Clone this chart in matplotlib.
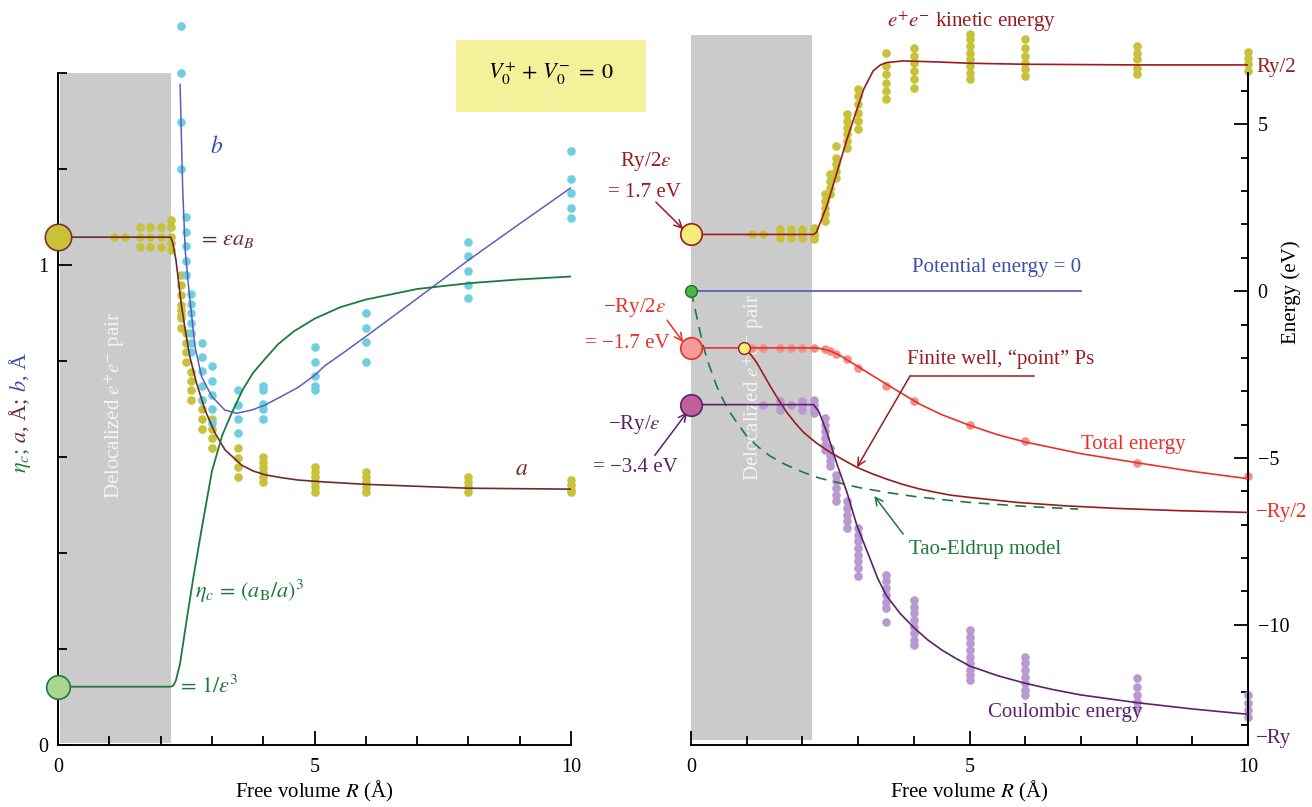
import matplotlib
matplotlib.use("Agg")
import matplotlib.pyplot as plt
from matplotlib.patches import Rectangle
from matplotlib.ticker import FixedLocator

plt.rcParams['font.family'] = ['Liberation Serif', 'DejaVu Serif']
plt.rcParams['mathtext.fontset'] = 'stix'

W, H = 1312, 807

# ---------------- colours ----------------
GRAY = '#cbcbcb'
OLIVE = '#c8c23a'
CYAN = '#6fcfe0'
BLUE_LINE = '#5a60b8'
BLUE_TXT = '#3c4fa8'
BROWN = '#6b2c2c'
GREEN = '#1d7a3c'
DKRED = '#981c20'
RED = '#ec3028'
PINK = '#f2908c'
PURPLE = '#5e1f6b'
LAVENDER = '#b899d1'

# ---------------- left panel: sizes of the pair ----------------
a_curve_R = [0, 2.2, 2.24, 2.3, 2.35, 2.41, 2.48, 2.57, 2.70, 2.865, 3.06, 3.255,
             3.58, 3.8, 4.035, 4.35, 4.68, 5.2, 6.0, 7.0, 8.0, 9.0, 10.0]
a_curve = [1.058, 1.058, 1.045, 1.01, 0.965, 0.913, 0.865, 0.809, 0.754, 0.698,
           0.650, 0.615, 0.583, 0.571, 0.563, 0.557, 0.552, 0.548, 0.543, 0.539,
           0.535, 0.534, 0.533]

b_curve_R = [2.38, 2.43, 2.48, 2.54, 2.6, 2.67, 2.8, 3.0, 3.25, 3.48, 3.78, 4.03,
             4.35, 4.68, 5.0, 5.2, 5.6, 6.0, 7.0, 8.0, 9.0, 10.0]
b_curve = [1.376, 1.16, 1.03, 0.96, 0.90, 0.83, 0.767, 0.726, 0.698, 0.691, 0.698,
           0.708, 0.726, 0.745, 0.77, 0.79, 0.82, 0.851, 0.93, 1.01, 1.086, 1.161]

eta_curve_R = [0, 2.2, 2.25, 2.3, 2.38, 2.5, 2.64, 2.8, 3.0, 3.2, 3.4, 3.6, 3.8,
               4.0, 4.29, 4.6, 5.0, 5.5, 6.0, 7.0, 8.0, 9.0, 10.0]
eta_curve = [0.1215, 0.1215, 0.124, 0.135, 0.17, 0.255, 0.35, 0.45, 0.57, 0.645,
             0.695, 0.74, 0.775, 0.80, 0.835, 0.862, 0.888, 0.912, 0.928, 0.95,
             0.962, 0.97, 0.976]

a_dot_R = [1.1, 1.3, 1.6, 1.8, 2.0, 2.2, 2.4, 2.5, 2.6, 2.8, 3.0, 3.5, 4.0, 5.0, 6.0, 8.0, 10.0]
a_dot_vals = [
    [1.058],
    [1.058],
    [1.079, 1.058, 1.0375],
    [1.079, 1.058, 1.0375],
    [1.079, 1.058, 1.0375],
    [1.094, 1.079, 1.058, 1.046, 1.031],
    [0.979, 0.958, 0.9375, 0.917, 0.906, 0.896, 0.890, 0.869],
    [0.858, 0.8375, 0.819, 0.798],
    [0.777, 0.758, 0.740, 0.719],
    [0.719, 0.700, 0.679, 0.658],
    [0.679, 0.658, 0.640, 0.619],
    [0.619, 0.598, 0.579, 0.558],
    [0.600, 0.590, 0.579, 0.569, 0.558, 0.548],
    [0.579, 0.569, 0.558, 0.548, 0.538, 0.527],
    [0.569, 0.558, 0.548, 0.538, 0.527],
    [0.558, 0.548, 0.538, 0.527],
    [0.552, 0.542, 0.531, 0.527],
]

b_dot_R = [2.4, 2.5, 2.6, 2.8, 3.0, 3.5, 4.0, 5.0, 6.0, 8.0, 10.0]
b_dot_vals = [
    [1.4985, 1.4, 1.2985, 1.199],
    [1.1, 1.069, 1.0396, 1.009, 0.979],
    [0.9396, 0.919, 0.9, 0.880, 0.859, 0.838, 0.819],
    [0.838, 0.809, 0.779, 0.7485, 0.719],
    [0.790, 0.759, 0.729, 0.700, 0.670],
    [0.740, 0.708, 0.679, 0.650],
    [0.7485, 0.740, 0.710, 0.700, 0.679],
    [0.829, 0.7985, 0.769, 0.7485, 0.740],
    [0.899, 0.869, 0.839, 0.7985],
    [1.0485, 1.019, 0.988, 0.958, 0.931],
    [1.238, 1.1785, 1.149, 1.118, 1.0985],
]

# ---------------- right panel: energies (eV) ----------------
kin_curve_R = [0, 2.2, 2.25, 2.32, 2.44, 2.62, 2.8, 2.98, 3.1, 3.27, 3.4, 3.51, 3.81,
               4.41, 5.0, 6.0, 8.0, 10.0]
kin_curve = [1.7, 1.7, 1.76, 2.05, 2.56, 3.56, 4.55, 5.45, 6.05, 6.6, 6.78, 6.85,
             6.90, 6.87, 6.83, 6.80, 6.78, 6.78]

pot_R = [0, 7.0]
pot_E = [0, 0]

tao_R = [0, 0.05, 0.12, 0.22, 0.3, 0.46, 0.58, 0.70, 0.85, 1.0, 1.2, 1.42, 1.7,
         2.02, 2.3, 2.62, 3.0, 3.51, 4.0, 4.41, 5.0, 6.0, 6.95]
tao_E = [0, -0.35, -0.9, -1.64, -2.1, -2.84, -3.27, -3.63, -4.0, -4.34, -4.66, -4.94,
         -5.2, -5.43, -5.6, -5.73, -5.88, -6.03, -6.15, -6.23, -6.33, -6.45, -6.53]

well_R = [0.95, 1.05, 1.18, 1.42, 1.57, 1.72, 1.87, 2.02, 2.25, 2.5, 2.75, 2.98,
          3.25, 3.51, 3.8, 4.11, 4.4, 4.65, 5.0, 5.85, 6.7, 7.64, 8.8, 10.0]
well_E = [-1.7, -1.85, -2.14, -2.84, -3.25, -3.63, -3.95, -4.23, -4.55, -4.83, -5.07,
          -5.28, -5.47, -5.63, -5.79, -5.93, -6.03, -6.11, -6.18, -6.33, -6.43, -6.51,
          -6.58, -6.63]

tot_curve_R = [0, 2.2, 2.3, 2.5, 2.7, 2.9, 3.2, 3.5, 3.8, 4.1, 4.5, 5.0, 5.5, 6.0,
               7.0, 8.0, 9.0, 10.0]
tot_curve = [-1.7, -1.7, -1.71, -1.79, -1.95, -2.16, -2.47, -2.78, -3.08, -3.38,
             -3.7, -4.02, -4.3, -4.52, -4.87, -5.14, -5.4, -5.62]

coul_curve_R = [0, 2.2, 2.29, 2.44, 2.62, 2.8, 2.98, 3.21, 3.35, 3.5, 3.75, 4.0,
                4.25, 4.5, 4.75, 5.0, 5.5, 6.0, 6.5, 7.0, 8.0, 9.0, 10.0]
coul_curve = [-3.4, -3.4, -3.59, -4.23, -5.18, -6.03, -7.03, -8.0, -8.6, -9.1, -9.65,
              -10.08, -10.45, -10.75, -11.0, -11.23, -11.52, -11.75, -11.94, -12.1,
              -12.33, -12.52, -12.68]

kin_dot_R = [1.1, 1.3, 1.6, 1.8, 2.0, 2.2, 2.4, 2.5, 2.6, 2.8, 3.0, 3.5, 4.0, 5.0, 6.0, 8.0, 10.0]
kin_dot_vals = [
    [1.7], [1.7],
    [1.6, 1.7, 1.85], [1.6, 1.7, 1.85], [1.6, 1.7, 1.85],
    [1.55, 1.65, 1.75, 1.9],
    [2.1, 2.3, 2.5, 2.7, 2.9],
    [2.9, 3.1, 3.3, 3.5],
    [3.4, 3.6, 3.8, 4.0, 4.35],
    [4.3, 4.5, 4.7, 4.9, 5.1, 5.3],
    [4.85, 5.1, 5.35, 5.6, 5.85, 6.05],
    [5.75, 6.0, 6.25, 6.5, 6.75, 7.15],
    [6.1, 6.35, 6.6, 6.85, 7.05, 7.3],
    [6.35, 6.55, 6.75, 6.95, 7.15, 7.35, 7.55, 7.7],
    [6.45, 6.65, 6.85, 7.05, 7.3, 7.55],
    [6.5, 6.7, 6.95, 7.15, 7.35],
    [6.6, 6.8, 7.0, 7.17],
]

tot_dot_R = [1.1, 1.3, 1.6, 1.8, 2.0, 2.2, 2.4, 2.5, 2.6, 2.8, 3.0, 3.5, 4.0, 5.0, 6.0, 8.0, 10.0]
tot_dot_E = [-1.7, -1.7, -1.7, -1.7, -1.7, -1.7, -1.74, -1.8, -1.88, -2.03, -2.3,
             -2.83, -3.28, -4.0, -4.5, -5.15, -5.53]

coul_dot_R = [1.3, 1.6, 1.8, 2.0, 2.2, 2.4, 2.5, 2.6, 2.8, 3.0, 3.5, 4.0, 5.0, 6.0, 8.0, 10.0]
coul_dot_vals = [
    [-3.4],
    [-3.3, -3.4, -3.55],
    [-3.4],
    [-3.3, -3.4, -3.55],
    [-3.25, -3.4, -3.55, -3.65],
    [-3.8, -4.0, -4.2, -4.4, -4.6, -4.75],
    [-4.7, -4.9, -5.1, -5.25],
    [-5.5, -5.7, -5.9, -6.1, -6.3],
    [-6.3, -6.5, -6.7, -6.9, -7.1],
    [-7.1, -7.3, -7.5, -7.7, -7.9, -8.1, -8.3, -8.55],
    [-8.5, -8.7, -8.9, -9.1, -9.3, -9.5, -9.9],
    [-9.25, -9.45, -9.65, -9.85, -10.05, -10.25, -10.45, -10.6],
    [-10.15, -10.35, -10.55, -10.75, -10.95, -11.15, -11.35, -11.5, -11.65],
    [-10.95, -11.15, -11.35, -11.55, -11.75, -11.95, -12.1],
    [-11.6, -11.85, -12.1, -12.3, -12.5],
    [-12.1, -12.35, -12.55, -12.75],
]

RY = 13.6
E_KIN0 = RY / 8      # Ry/2eps = 1.7 eV
E_TOT0 = -RY / 8     # -Ry/2eps = -1.7 eV
E_COUL0 = -RY / 4    # -Ry/eps = -3.4 eV
A_EPS = 1.058        # eps * a_B
ETA0 = 0.1215        # 1/eps^3

FS = 15              # axis titles and annotations
FS_TICK = 14.5
DOT = 6.2

fig = plt.figure(figsize=(W / 100, H / 100), dpi=100)
axL = fig.add_axes([58 / W, 62 / H, 513 / W, 725 / H])
axR = fig.add_axes([691 / W, 62 / H, 557 / W, 725 / H])


def dot_columns(ax, xs, cols, color):
    for x, vals in zip(xs, cols):
        ax.plot([x] * len(vals), vals, 'o', ms=DOT, color=color, mec='none', zorder=2,
                clip_on=False)


# ================= left panel =================
axL.set_xlim(0, 10)
axL.set_ylim(0, 725 / 480)
axL.add_patch(Rectangle((0.04, 0.005), 2.16, 1.395, color=GRAY, lw=0, zorder=0.5))
axL.text(1.11, 0.708, r'Delocalized $e^{+}e^{-}$ pair', rotation=90, ha='center',
         va='center', color='#f4f4f4', fontsize=FS, zorder=1)

dot_columns(axL, a_dot_R, a_dot_vals, OLIVE)
dot_columns(axL, b_dot_R, b_dot_vals, CYAN)

axL.plot(a_curve_R, a_curve, color=BROWN, lw=1.2, zorder=3)
axL.plot(b_curve_R, b_curve, color=BLUE_LINE, lw=1.1, zorder=3)
axL.plot(eta_curve_R, eta_curve, color=GREEN, lw=1.3, zorder=3)

axL.plot([0], [A_EPS], 'o', ms=19, mfc=OLIVE, mec='#7a3328', mew=1.2, zorder=6, clip_on=False)
axL.plot([0], [ETA0], 'o', ms=17, mfc='#a8d68f', mec=GREEN, mew=1.2, zorder=6, clip_on=False)

axL.text(3.10, 1.246, r'$b$', color=BLUE_TXT, fontsize=17, ha='center', va='center')
axL.text(2.73, 1.052, r'$=\,\varepsilon a_B$', color=BROWN, fontsize=FS + 1, ha='left', va='center')
axL.text(9.03, 0.573, r'$a$', color=BROWN, fontsize=17, ha='center', va='center')
axL.text(2.67, 0.319, r'$\eta_c\,=\,(a_{\mathrm{B}}/a)^3$', color=GREEN, fontsize=FS + 1,
         ha='left', va='center')
axL.text(2.32, 0.121, r'$=\,1/\varepsilon^3$', color=GREEN, fontsize=FS + 1, ha='left', va='center')

for side in ('top', 'right'):
    axL.spines[side].set_visible(False)
axL.spines['left'].set_bounds(0, 1.4)
axL.spines['bottom'].set_bounds(0, 10)
for side in ('left', 'bottom'):
    axL.spines[side].set_linewidth(1.4)
axL.set_xticks([0, 5, 10])
axL.set_xticklabels(['0', '5', '10'])
axL.xaxis.set_minor_locator(FixedLocator([1, 2, 3, 4, 6, 7, 8, 9]))
axL.set_yticks([0, 1])
axL.set_yticklabels(['0', '1'])
axL.yaxis.set_minor_locator(FixedLocator([0.2, 0.4, 0.6, 0.8, 1.2, 1.4]))
axL.tick_params(which='major', direction='in', length=10, width=1.3, labelsize=FS_TICK)
axL.tick_params(which='minor', direction='in', length=6.5, width=1.3)
axL.tick_params(axis='x', pad=9)
axL.tick_params(axis='y', pad=7)
axL.set_xlabel(r'Free volume $R$ (Å)', fontsize=FS, labelpad=2)

# ================= right panel =================
axR.set_xlim(0, 10)
axR.set_ylim(-13.6, -13.6 + 725 / 33.37)
axR.add_patch(Rectangle((0, -13.45), 2.17, 21.13, color=GRAY, lw=0, zorder=0.5))
axR.text(1.12, -2.88, r'Delocalized $e^{+}e^{-}$ pair', rotation=90, ha='center',
         va='center', color='#f4f4f4', fontsize=FS, zorder=1)

dot_columns(axR, kin_dot_R, kin_dot_vals, OLIVE)
axR.plot(tot_dot_R, tot_dot_E, 'o', ms=DOT, color=PINK, mec='none', zorder=2, clip_on=False)
dot_columns(axR, coul_dot_R, coul_dot_vals, LAVENDER)

axR.plot(kin_curve_R, kin_curve, color=DKRED, lw=1.2, zorder=3)
axR.plot(pot_R, pot_E, color=BLUE_LINE, lw=1.3, zorder=3)
axR.plot(tao_R, tao_E, color=GREEN, lw=1.2, ls=(0, (6.5, 4.5)), zorder=3)
axR.plot(well_R, well_E, color=DKRED, lw=1.2, zorder=3)
axR.plot(tot_curve_R, tot_curve, color=RED, lw=1.2, zorder=3)
axR.plot(coul_curve_R, coul_curve, color=PURPLE, lw=1.2, zorder=3)

axR.plot([0], [E_KIN0], 'o', ms=15.5, mfc='#f7ec78', mec=DKRED, mew=1.2, zorder=6, clip_on=False)
axR.plot([0], [E_TOT0], 'o', ms=15.5, mfc='#f59a98', mec=RED, mew=1.2, zorder=6, clip_on=False)
axR.plot([0], [E_COUL0], 'o', ms=15.5, mfc='#c0609a', mec=PURPLE, mew=1.2, zorder=6, clip_on=False)
axR.plot([0], [0], 'o', ms=8.5, mfc='#4cb848', mec='#1d6a2c', mew=1.0, zorder=6, clip_on=False)
axR.plot([well_R[0]], [well_E[0]], 'o', ms=8.5, mfc='#f7ec78', mec=DKRED, mew=1.0, zorder=6)


def label(ax, x, y, s, color, **kw):
    ax.text(x, y, s, color=color, fontsize=kw.pop('fontsize', FS), ha=kw.pop('ha', 'center'),
            va='center', clip_on=False, **kw)


def arrow(ax, xy_from, xy_to, color):
    ax.annotate('', xy=xy_to, xytext=xy_from, annotation_clip=False,
                arrowprops=dict(arrowstyle='->', color=color, lw=1.1,
                                shrinkA=0, shrinkB=0, mutation_scale=14))


label(axR, -0.81, 3.90, r'Ry/2$\varepsilon$', DKRED)
label(axR, -0.84, 2.97, r'= 1.7 eV', DKRED)
arrow(axR, (-0.63, 2.67), (-0.14, 1.86), DKRED)

label(axR, -1.02, -0.48, r'−Ry/2$\varepsilon$', RED)
label(axR, -1.15, -1.56, r'= −1.7 eV', RED)
arrow(axR, (-0.43, -0.87), (-0.14, -1.53), RED)

label(axR, -1.02, -3.99, r'−Ry/$\varepsilon$', PURPLE)
label(axR, -1.00, -5.27, r'= −3.4 eV', PURPLE)
arrow(axR, (-0.65, -4.92), (-0.07, -3.63), PURPLE)

label(axR, 5.03, 8.09, r'$e^{+}e^{-}$ kinetic energy', DKRED)
label(axR, 5.48, 0.72, 'Potential energy = 0', BLUE_TXT)
label(axR, 5.55, -2.04, 'Finite well, “point” Ps', DKRED)
axR.plot([3.93, 6.16], [-2.55, -2.55], color=DKRED, lw=1.1, zorder=3)
arrow(axR, (3.93, -2.55), (2.98, -5.28), DKRED)
label(axR, 7.94, -4.58, 'Total energy', RED)
label(axR, 5.28, -7.73, 'Tao-Eldrup model', GREEN)
arrow(axR, (3.81, -7.28), (3.29, -6.14), GREEN)
label(axR, 6.72, -12.62, 'Coulombic energy', PURPLE)

for side in ('top', 'left'):
    axR.spines[side].set_visible(False)
axR.spines['right'].set_bounds(-13.6, 6.55)
axR.spines['bottom'].set_bounds(0, 10)
for side in ('right', 'bottom'):
    axR.spines[side].set_linewidth(1.4)
axR.yaxis.tick_right()
axR.set_xticks([0, 5, 10])
axR.set_xticklabels(['0', '5', '10'])
axR.xaxis.set_minor_locator(FixedLocator([1, 2, 3, 4, 6, 7, 8, 9]))
axR.set_yticks([-10, -5, 0, 5])
axR.set_yticklabels(['−10', '−5', '0', '5'])
axR.yaxis.set_minor_locator(FixedLocator([-13, -12, -11, -9, -8, -7, -6, -4, -3, -2, -1,
                                          1, 2, 3, 4, 6]))
axR.tick_params(which='major', direction='in', length=10, width=1.3, labelsize=FS_TICK)
axR.tick_params(axis='y', which='minor', direction='in', length=5, width=1.3)
axR.tick_params(axis='x', which='minor', direction='in', length=6.5, width=1.3)
axR.tick_params(axis='x', pad=9)
axR.tick_params(axis='y', pad=7)
axR.set_xlabel(r'Free volume $R$ (Å)', fontsize=FS, labelpad=2)

# special levels written beside the energy axis
for val, txt, col, dy in [(RY / 2, 'Ry/2', DKRED, -2), (-RY / 2, '−Ry/2', RED, 4),
                          (-RY, '−Ry', PURPLE, 5)]:
    axR.annotate(txt, xy=(1, val), xycoords=('axes fraction', 'data'), xytext=(6, dy),
                 textcoords='offset points', ha='left', va='center', color=col,
                 fontsize=FS, annotation_clip=False)

fig.text(1291 / W, (H - 292) / H, 'Energy (eV)', rotation=90, ha='center', va='center',
         fontsize=FS)

# formula box
fig.patches.append(Rectangle((456 / W, (H - 112) / H), 190 / W, 72 / H,
                             transform=fig.transFigure, color='#f5f09a', lw=0))
fig.text(551 / W, (H - 74) / H, r'$V_0^{+}\,+\,V_0^{-}\;=\;0$', ha='center', va='center',
         fontsize=FS + 1)

# multi-coloured vertical label of the left axis
fig.canvas.draw()
renderer = fig.canvas.get_renderer()
parts = [(r'$\eta_c$;', GREEN), (r' $a$, Å;', BROWN), (r' $b$, Å', BLUE_TXT)]
pieces = [fig.text(0, 0, s, color=c, fontsize=FS + 1, rotation=90, rotation_mode='anchor',
                   ha='left', va='baseline') for s, c in parts]
lengths = [t.get_window_extent(renderer).height for t in pieces]
ypos = (H - 412) - sum(lengths) / 2
for t, L in zip(pieces, lengths):
    t.set_position((26 / W, ypos / H))
    ypos += L

fig.savefig('out.png', dpi=100)
